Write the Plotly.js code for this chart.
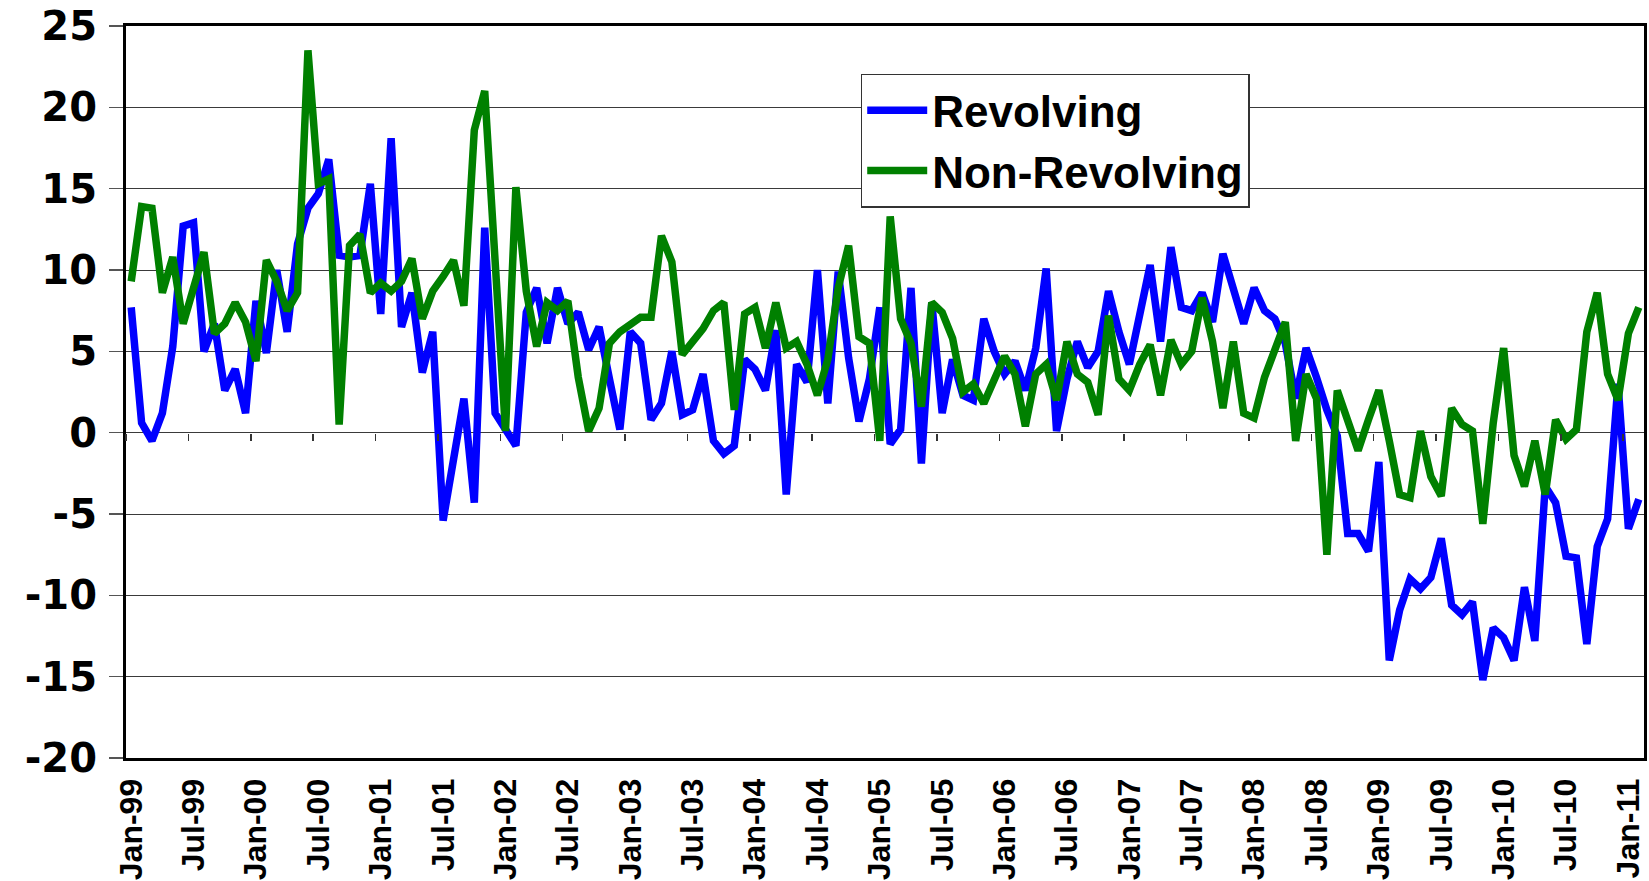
<!DOCTYPE html>
<html>
<head>
<meta charset="utf-8">
<script src="https://cdn.plot.ly/plotly-3.0.1.min.js"></script>
<style>
  html, body { margin: 0; padding: 0; background: #ffffff; }
  #chart { width: 1649px; height: 881px; }
</style>
</head>
<body>
<div id="chart"></div>
<script>
// Monthly data, Jan-99 .. Feb-11
const monthNames = ['Jan','Feb','Mar','Apr','May','Jun','Jul','Aug','Sep','Oct','Nov','Dec'];
const startYear = 1999;

const revolving = [
  7.7, 0.6, -0.5, 1.2, 5.3, 12.7, 12.9, 5.0, 6.7, 2.6, 3.9, 1.2,
  8.1, 4.9, 10.0, 6.2, 11.6, 13.8, 14.7, 16.8, 10.9, 10.8, 10.9, 15.3,
  7.3, 18.1, 6.5, 8.6, 3.7, 6.2, -5.4, -1.6, 2.1, -4.3, 12.6, 1.2,
  0.2, -0.8, 7.4, 8.9, 5.5, 8.9, 6.7, 7.4, 5.1, 6.5, 3.3, 0.2,
  6.2, 5.5, 0.8, 1.8, 5.0, 1.1, 1.4, 3.6, -0.5, -1.3, -0.8, 4.5,
  3.9, 2.6, 6.3, -3.8, 4.2, 3.1, 10.0, 1.8, 9.9, 4.6, 0.7, 3.3,
  7.7, -0.7, 0.2, 8.9, -1.9, 8.0, 1.2, 4.5, 2.3, 2.0, 7.0, 5.0,
  3.6, 4.4, 2.6, 5.2, 10.1, 0.1, 3.3, 5.6, 4.0, 5.0, 8.7, 6.2,
  4.2, 7.2, 10.3, 5.6, 11.4, 7.7, 7.5, 8.6, 6.8, 11.0, 8.7, 6.7,
  8.9, 7.5, 7.0, 5.5, 2.1, 5.2, 3.4, 1.4, -0.2, -6.2, -6.2, -7.3,
  -1.8, -14.0, -10.9, -9.0, -9.6, -8.9, -6.5, -10.6, -11.2, -10.4, -15.2, -12.0,
  -12.6, -14.0, -9.5, -12.8, -3.3, -4.3, -7.6, -7.7, -13.0, -7.0, -5.3, 3.0,
  -5.9, -4.1
];

const nonRevolving = [
  9.3, 13.9, 13.8, 8.6, 10.8, 6.7, 8.9, 11.1, 6.1, 6.7, 8.0, 6.8,
  4.4, 10.6, 9.3, 7.5, 8.6, 23.5, 15.3, 15.6, 0.5, 11.5, 12.2, 8.6,
  9.2, 8.7, 9.3, 10.7, 7.0, 8.7, 9.6, 10.6, 7.8, 18.6, 21.0, 10.5,
  0.1, 15.1, 8.7, 5.3, 8.0, 7.5, 8.1, 3.4, 0.1, 1.5, 5.5, 6.2,
  6.7, 7.1, 7.1, 12.1, 10.5, 4.8, 5.6, 6.4, 7.5, 8.0, 1.4, 7.3,
  7.7, 5.2, 8.0, 5.2, 5.6, 4.2, 2.3, 4.5, 8.9, 11.5, 5.9, 5.5,
  -0.5, 13.3, 7.0, 5.5, 1.6, 8.0, 7.4, 5.8, 2.5, 3.0, 1.8, 3.3,
  4.7, 3.6, 0.4, 3.6, 4.2, 2.0, 5.6, 3.6, 3.1, 1.1, 7.2, 3.3,
  2.6, 4.2, 5.4, 2.3, 5.7, 4.2, 5.0, 8.3, 5.6, 1.5, 5.6, 1.2,
  0.9, 3.4, 5.2, 6.8, -0.5, 3.6, 2.1, -7.5, 2.6, 0.8, -1.1, 0.8,
  2.6, -0.5, -3.8, -4.0, 0.1, -2.7, -3.9, 1.5, 0.5, 0.1, -5.6, 0.6,
  5.2, -1.4, -3.3, -0.5, -3.8, 0.8, -0.4, 0.2, 6.2, 8.6, 3.6, 2.0,
  6.1, 7.7
];

// y-axis tick values and their labels (hyphen minus, as in the original)
const yTickVals = [-20, -15, -10, -5, 0, 5, 10, 15, 20, 25];
const yTickText = ['-20', '-15', '-10', '-5', '0', '5', '10', '15', '20', '25'];

const categories = revolving.map(function (_, i) {
  const yr = (startYear + Math.floor(i / 12)) % 100;
  return monthNames[i % 12] + '-' + String(yr).padStart(2, '0');
});

const yMin = -20, yMax = 25;
const FONT = 'Liberation Sans, Arial, Helvetica, sans-serif';
const WIDE = 'DejaVu Sans, Liberation Sans, Arial, sans-serif';

const traces = [
  {
    type: 'scatter', mode: 'lines', name: 'Revolving',
    x: categories, y: revolving,
    xaxis: 'x', yaxis: 'y',
    line: { color: '#0000FF', width: 7.5 }
  },
  {
    type: 'scatter', mode: 'lines', name: 'Non-Revolving',
    x: categories, y: nonRevolving,
    xaxis: 'x2', yaxis: 'y',
    line: { color: '#008000', width: 7.5 }
  }
];

const layout = {
  width: 1649, height: 881,
  margin: { l: 126, r: 5, t: 26, b: 123, pad: 0 },
  paper_bgcolor: '#ffffff', plot_bgcolor: '#ffffff',
  font: { family: FONT, color: '#000000' },
  showlegend: true,
  legend: {
    x: 0.484, y: 0.935, xanchor: 'left', yanchor: 'top',
    bgcolor: '#ffffff', bordercolor: '#333333', borderwidth: 1.5,
    font: { family: FONT, size: 44, weight: 'bold', color: '#000000' },
    traceorder: 'normal', itemwidth: 60
  },
  xaxis: {
    type: 'category', categoryorder: 'array', categoryarray: categories,
    range: [-0.5, categories.length - 0.5],
    tickmode: 'linear', tick0: 0, dtick: 6,
    tickangle: -90, ticks: '', showgrid: false, zeroline: false,
    showline: true, mirror: true, linecolor: '#000000', linewidth: 3,
    tickfont: { family: FONT, size: 32, weight: 'bold', color: '#000000' },
    ticklabelstandoff: 5
  },
  xaxis2: {
    type: 'category', categoryorder: 'array', categoryarray: categories,
    range: [-0.5, categories.length - 0.5],
    overlaying: 'x', anchor: 'free', position: (0 - yMin) / (yMax - yMin),
    tickmode: 'linear', tick0: 0, dtick: 6, tickson: 'boundaries',
    ticks: 'outside', ticklen: 7, tickwidth: 1.5, tickcolor: '#333333',
    showticklabels: false, showgrid: false, zeroline: false, showline: false
  },
  yaxis: {
    range: [yMin, yMax], tickmode: 'array', tickvals: yTickVals, ticktext: yTickText,
    ticks: 'outside', ticklen: 14, tickwidth: 1.5, tickcolor: '#555555',
    showgrid: true, gridcolor: '#3a3a3a', gridwidth: 1,
    zeroline: true, zerolinecolor: '#3a3a3a', zerolinewidth: 1,
    showline: true, mirror: true, linecolor: '#000000', linewidth: 3,
    tickfont: { family: WIDE, size: 40, weight: 'bold', color: '#000000' },
    ticklabelstandoff: 4
  }
};

Plotly.newPlot('chart', traces, layout, { displayModeBar: false, staticPlot: true });
</script>
</body>
</html>
